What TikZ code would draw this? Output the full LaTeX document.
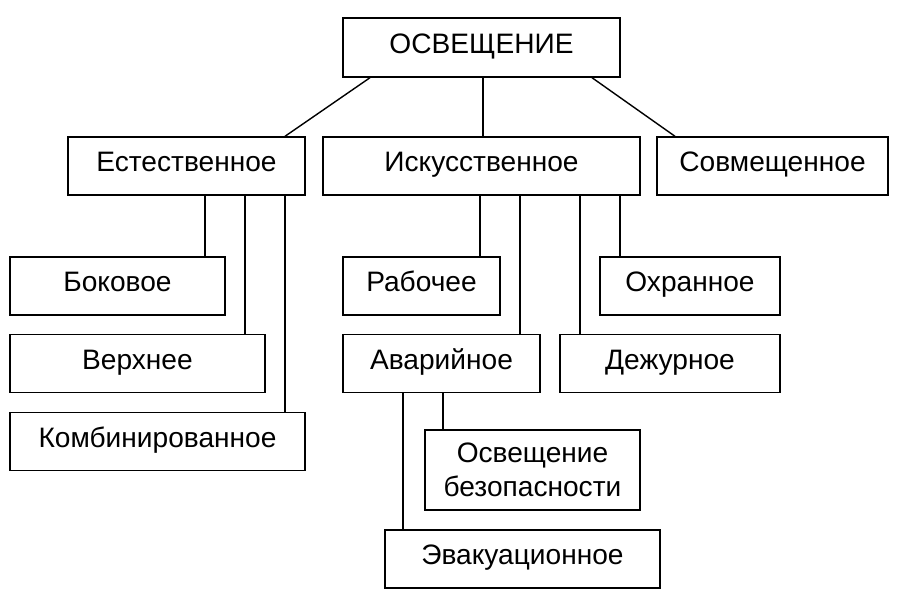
\documentclass[tikz,border=0pt]{standalone}
\usepackage{fontspec}
\setmainfont{Liberation Sans}
\usetikzlibrary{positioning}

\begin{document}
\begin{tikzpicture}[x=0.02cm, y=-0.02cm, line width=0.8pt,
                    every node/.style={font=\fontsize{16}{19}\selectfont},
                    box/.style={draw, inner sep=0pt, minimum height=1.16cm, align=center},
                    one/.style={text height=1.5ex, text depth=.25ex}]
   \useasboundingbox (0,0) rectangle (900,592);

   \node[box, one, minimum width=5.54cm, minimum height=1.18cm] (osv) at (481.5,47.5) {ОСВЕЩЕНИЕ};
   \node[box, one, minimum width=4.74cm] (est)  at (186.5,166) {Естественное};
   \node[box, one, minimum width=6.34cm] (isk)  at (481.5,166) {Искусственное};
   \node[box, one, minimum width=4.62cm] (sovm) at (772.5,166) {Совмещенное};

   \node[box, one, minimum width=4.30cm] (bok)  at (117.5,286) {Боковое};
   \node[box, one, minimum width=5.10cm] (verh) at (137.5,363.5) {Верхнее};
   \node[box, one, minimum width=5.90cm] (komb) at (157.5,441.5) {Комбинированное};

   \node[box, one, minimum width=3.14cm] (rab)  at (421.5,286) {Рабочее};
   \node[box, one, minimum width=3.60cm] (ohr)  at (690,286) {Охранное};
   \node[box, one, minimum width=3.94cm] (avar) at (441.5,363.5) {Аварийное};
   \node[box, one, minimum width=4.40cm] (dezh) at (670,363.5) {Дежурное};
   \node[box, minimum width=4.30cm, minimum height=1.60cm] (bez) at (532.5,470) {Освещение\\безопасности};
   \node[box, one, minimum width=5.50cm] (evak) at (522.5,559) {Эвакуационное};

   % top level
   \draw (osv.south -| 370,0) -- (est.north -| 285,0);
   \draw (osv.south -| 483,0) -- (isk.north -| 483,0);
   \draw (osv.south -| 592,0) -- (sovm.north -| 675,0);

   % natural
   \draw (est.south -| 205,0) -- (bok.north -| 205,0);
   \draw (est.south -| 245,0) -- (verh.north -| 245,0);
   \draw (est.south -| 285,0) -- (komb.north -| 285,0);

   % artificial
   \draw (isk.south -| 480,0) -- (rab.north -| 480,0);
   \draw (isk.south -| 520,0) -- (avar.north -| 520,0);
   \draw (isk.south -| 580,0) -- (dezh.north -| 580,0);
   \draw (isk.south -| 620,0) -- (ohr.north -| 620,0);

   % emergency
   \draw (avar.south -| 403,0) -- (evak.north -| 403,0);
   \draw (avar.south -| 443,0) -- (bez.north -| 443,0);
\end{tikzpicture}
\end{document}
